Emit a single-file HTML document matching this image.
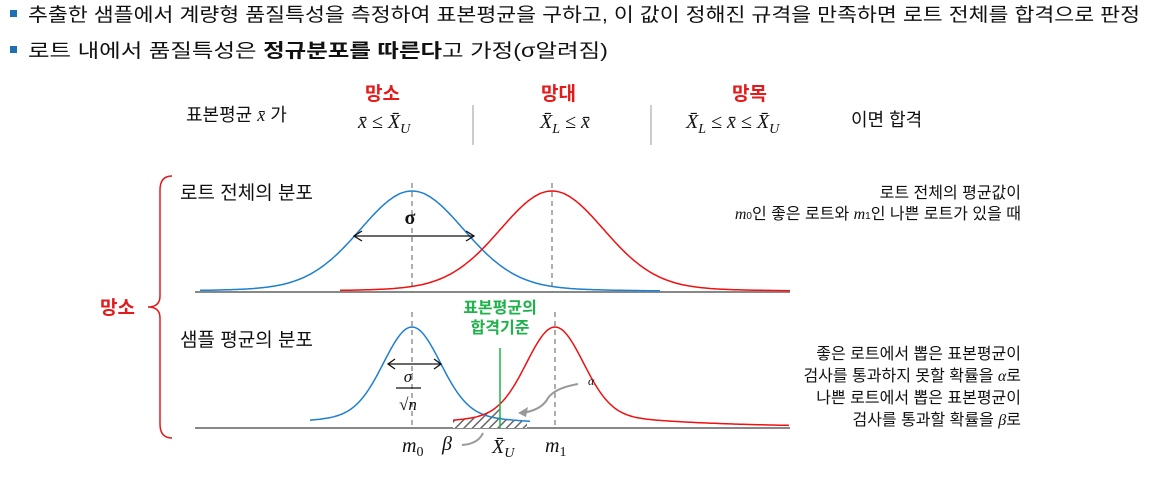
<!DOCTYPE html>
<html><head><meta charset="utf-8"><style>
body{margin:0;width:1156px;height:484px;background:#fff;overflow:hidden;font-family:"Liberation Sans","Noto Sans CJK KR",sans-serif}
svg{position:absolute;left:0;top:0}
</style></head><body>
<svg width="1156" height="484" xmlns="http://www.w3.org/2000/svg" font-family="'Liberation Sans','Noto Sans CJK KR',sans-serif">
<defs>
<pattern id="h" width="6" height="6" patternUnits="userSpaceOnUse" patternTransform="rotate(45)">
<rect width="6" height="6" fill="#fff"/><line x1="0" y1="0" x2="0" y2="6" stroke="#666" stroke-width="3"/></pattern>
</defs>
<rect x="10" y="10" width="7" height="7" fill="#1f6fb5"/>
<text x="28" y="21" font-size="19" fill="#111" textLength="1112" lengthAdjust="spacingAndGlyphs">추출한 샘플에서 계량형 품질특성을 측정하여 표본평균을 구하고, 이 값이 정해진 규격을 만족하면 로트 전체를 합격으로 판정</text>
<rect x="10" y="46" width="7" height="7" fill="#1f6fb5"/>
<text x="28" y="57" font-size="19" fill="#111" textLength="580" lengthAdjust="spacingAndGlyphs">로트 내에서 품질특성은 <tspan font-weight="bold">정규분포를 따른다</tspan>고 가정(σ알려짐)</text>
<g font-size="18" fill="#111">
<text x="186" y="121">표본평균 <tspan font-style="italic" font-family="Liberation Serif">x̄</tspan> 가</text>
<text x="365" y="100" fill="#e31b1b" font-weight="bold" font-size="19">망소</text>
<text x="541" y="100" fill="#e31b1b" font-weight="bold" font-size="19">망대</text>
<text x="732" y="100" fill="#e31b1b" font-weight="bold" font-size="19">망목</text>
<text x="358" y="128" font-family="Liberation Serif" font-style="italic" font-size="20">x̄ ≤ X̄<tspan font-size="14" dy="5">U</tspan></text>
<text x="540" y="128" font-family="Liberation Serif" font-style="italic" font-size="20">X̄<tspan font-size="14" dy="5">L</tspan><tspan dy="-5"> ≤ x̄</tspan></text>
<text x="686" y="128" font-family="Liberation Serif" font-style="italic" font-size="20">X̄<tspan font-size="14" dy="5">L</tspan><tspan dy="-5"> ≤ x̄ ≤ X̄</tspan><tspan font-size="14" dy="5">U</tspan></text>
<text x="851" y="126">이면 합격</text>
</g>
<line x1="473" y1="105" x2="473" y2="145" stroke="#999"/>
<line x1="651" y1="105" x2="651" y2="145" stroke="#999"/>
<text x="180" y="199" font-size="19" fill="#111">로트 전체의 분포</text>
<text x="180" y="346" font-size="19" fill="#111">샘플 평균의 분포</text>
<g font-size="16" fill="#111" text-anchor="end">
<text x="1021" y="198">로트 전체의 평균값이</text>
<text x="1021" y="219"><tspan font-style="italic" font-family="Liberation Serif">m</tspan><tspan font-size="10">0</tspan>인 좋은 로트와 <tspan font-style="italic" font-family="Liberation Serif">m</tspan><tspan font-size="10">1</tspan>인 나쁜 로트가 있을 때</text>
<text x="1021" y="359">좋은 로트에서 뽑은 표본평균이</text>
<text x="1021" y="381">검사를 통과하지 못할 확률을 <tspan font-style="italic" font-family="Liberation Serif">α</tspan>로</text>
<text x="1021" y="403">나쁜 로트에서 뽑은 표본평균이</text>
<text x="1021" y="425">검사를 통과할 확률을 <tspan font-style="italic" font-family="Liberation Serif">β</tspan>로</text>
</g>
<text x="100" y="314" font-size="19" fill="#e31b1b" font-weight="bold">망소</text>
<path d="M172 176 Q160 176 160 190 L160 296 Q160 307 148 307 Q160 307 160 318 L160 424 Q160 438 172 438" fill="none" stroke="#e31b1b" stroke-width="1.5"/>
<line x1="195" y1="292" x2="790" y2="292" stroke="#888" stroke-width="2"/>
<line x1="195" y1="428" x2="790" y2="428" stroke="#888" stroke-width="2"/>
<g stroke="#777" stroke-dasharray="5,4" stroke-width="1.2">
<line x1="412" y1="183" x2="412" y2="292"/><line x1="552" y1="183" x2="552" y2="292"/>
<line x1="412" y1="312" x2="412" y2="428"/><line x1="555" y1="312" x2="555" y2="428"/>
</g>
<path id="hatch" fill="url(#h)" d=""/>
<path id="b1" fill="none" stroke="#1f7fd0" stroke-width="1.5"/>
<path id="r1" fill="none" stroke="#f01010" stroke-width="1.5"/>
<path id="b2" fill="none" stroke="#1f7fd0" stroke-width="1.5"/>
<path id="r2" fill="none" stroke="#f01010" stroke-width="1.5"/>
<line x1="500" y1="348" x2="500" y2="428" stroke="#1db34a" stroke-width="1.5"/>
<text x="500" y="313" font-size="16" fill="#1db34a" font-weight="bold" text-anchor="middle">표본평균의</text>
<text x="500" y="333" font-size="16" fill="#1db34a" font-weight="bold" text-anchor="middle">합격기준</text>
<g stroke="#111" stroke-width="1.3" fill="none">
<line x1="354" y1="236" x2="474" y2="236"/><path d="M362 231 L354 236 L362 241 M466 231 L474 236 L466 241"/>
<line x1="388" y1="364" x2="441" y2="364"/><path d="M395 359 L388 364 L395 369 M434 359 L441 364 L434 369"/>
</g>
<text x="410" y="224" font-size="20" fill="#111" text-anchor="middle" font-family="Liberation Serif" font-weight="bold">σ</text>
<text x="408" y="382" font-size="17" fill="#111" text-anchor="middle" font-family="Liberation Serif" font-style="italic">σ</text>
<line x1="396" y1="388" x2="421" y2="388" stroke="#111" stroke-width="1.3"/>
<text x="408" y="410" font-size="17" fill="#111" text-anchor="middle" font-family="Liberation Serif">√<tspan font-style="italic">n</tspan></text>
<g fill="#111" font-family="Liberation Serif" font-style="italic" font-size="20">
<text x="402" y="452">m<tspan font-size="14" dy="4" font-style="normal">0</tspan></text>
<text x="442" y="450">β</text>
<text x="492" y="453">X̄<tspan font-size="14" dy="4">U</tspan></text>
<text x="545" y="452">m<tspan font-size="14" dy="4" font-style="normal">1</tspan></text>
<text x="588" y="385" font-size="12">α</text>
</g>
<path d="M578 384 Q555 388 548 398 Q542 410 522 413" fill="none" stroke="#999" stroke-width="2"/>
<path d="M518 413 L528 407 L526 417 Z" fill="#999"/>
<path d="M462 445 Q478 444 483 433" fill="none" stroke="#999" stroke-width="2"/>
</svg>
<script>
function g(mu,s,x,w,k){const z=(x-mu)/s;return Math.exp(-z*z/2)*(1-w)+w/(1+z*z/k);}
function curve(mu,s,A,base,x0,x1,w,k){let d="";for(let x=x0;x<=x1;x+=2){d+=(x==x0?"M":"L")+x+" "+(base-A*g(mu,s,x,w,k)).toFixed(1)+" ";}return d;}
document.getElementById('b1').setAttribute('d',curve(412,52,101,292,200,660,0.15,2));
document.getElementById('r1').setAttribute('d',curve(552,52,101,292,340,790,0.15,2));
document.getElementById('b2').setAttribute('d',curve(412,28,101,428,310,531,0.14,16));
document.getElementById('r2').setAttribute('d',curve(555,28,101,428,453,790,0.14,16));
function f(mu,x){return 428-101*g(mu,28,x,0.14,16);}
let d="M453 428 ";for(let x=453;x<=527;x+=2){d+="L"+x+" "+(x<500?f(555,x):f(412,x)).toFixed(1)+" ";}d+="L527 428 Z";
document.getElementById('hatch').setAttribute('d',d);
</script>
</body></html>
